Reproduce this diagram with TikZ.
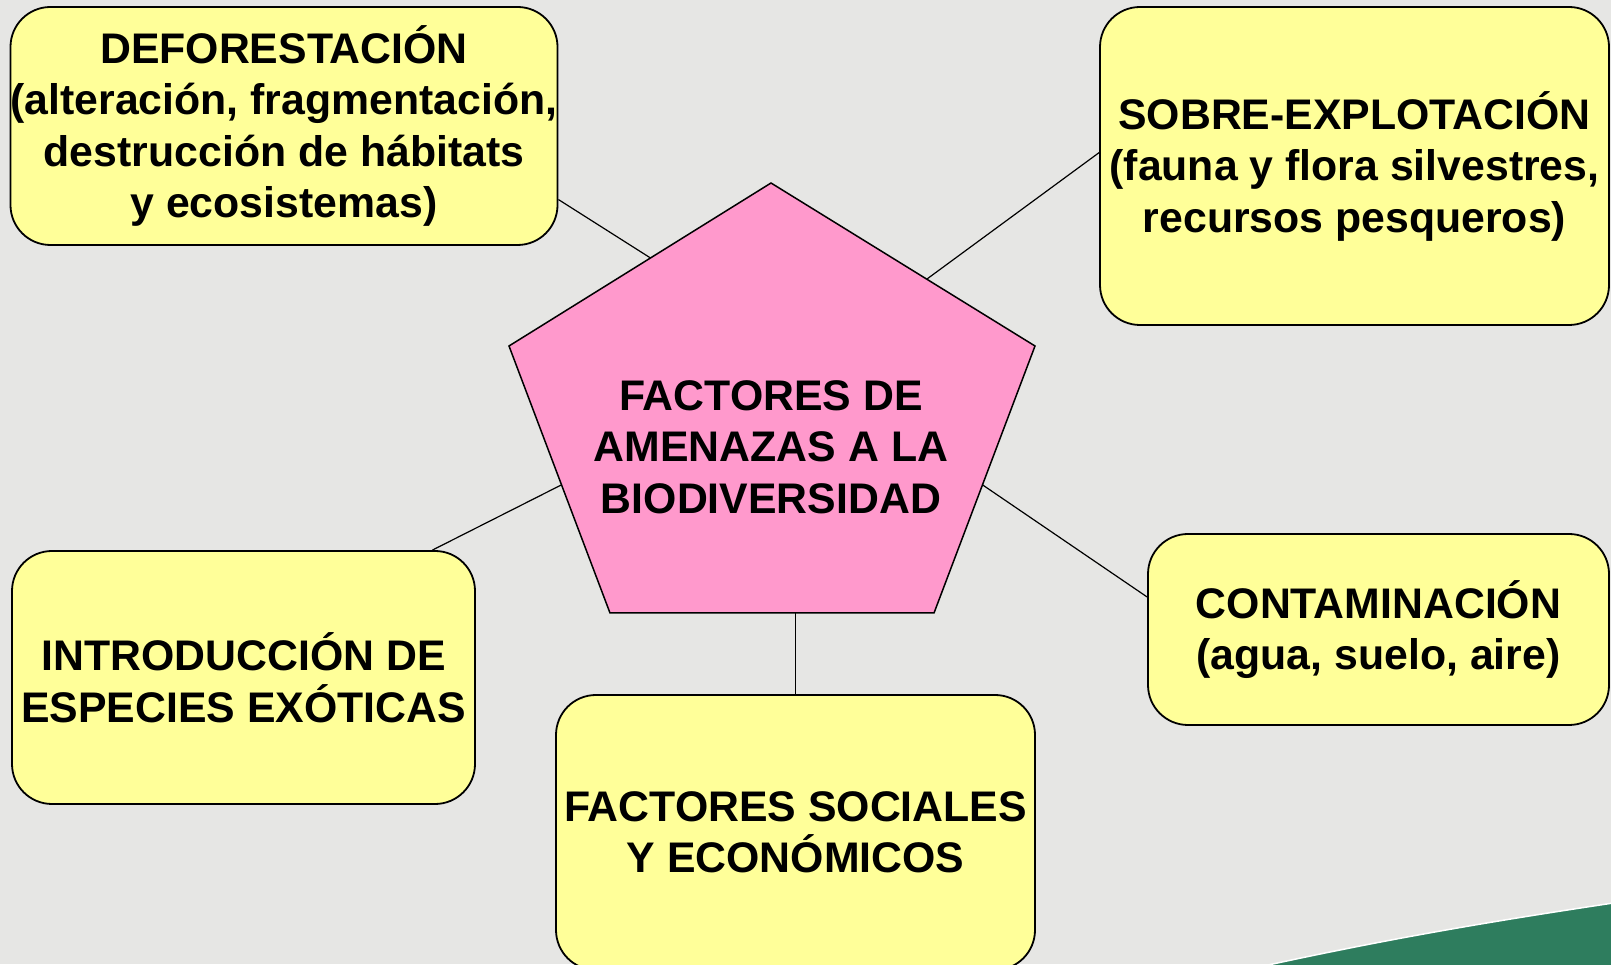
\documentclass[tikz,border=0pt]{standalone}
\usepackage{fontspec}
\setmainfont{Liberation Sans}
\usetikzlibrary{calc}
\definecolor{granito}{HTML}{E6E6E4}
\definecolor{amarillo}{HTML}{FFFF99}
\definecolor{rosa}{HTML}{FF99CC}
\definecolor{verde}{HTML}{2E7D5E}
\tikzstyle{every node}+=[inner sep=0pt]
\tikzstyle{factor}=[draw=black, line width=1.8pt, fill=amarillo, rounded corners=40pt, align=center, font=\fontsize{42.8}{51.5}\selectfont\bfseries]
\tikzstyle{pent}=[draw=black, line width=1.5pt, fill=rosa, line join=miter]
\tikzstyle{enlace}=[black, line width=1.2pt]

\begin{document}
\begin{tikzpicture}[x=1pt, y=1pt]
\useasboundingbox (0,0) rectangle (1611,964);
\clip (0,0) rectangle (1611,964);
\fill [granito] (0,0) rectangle (1611,964);
\fill [verde, draw=white, line width=1.5pt] (1250,-5) .. controls (1390,26) and (1500,44) .. (1620,62) -- (1620,-5) -- cycle;

% pentagono
\coordinate (p1) at (771,781);
\coordinate (p2) at (509,618);
\coordinate (p3) at (610,351);
\coordinate (p4) at (934,351);
\coordinate (p5) at (1035,618);
\draw [pent] (p1) -- (p2) -- (p3) -- (p4) -- (p5) -- cycle;
\node (centro) [align=center, font=\fontsize{42.8}{51.5}\selectfont\bfseries] at (771,517) {FACTORES DE\\AMENAZAS A LA\\BIODIVERSIDAD};

% cajas
\node (deforest) [factor, minimum width=544pt, minimum height=238pt] at (284,838)
  {DEFORESTACIÓN\\(alteración, fragmentación,\\destrucción de hábitats\\y ecosistemas)};
\node (sobre) [factor, minimum width=509pt, minimum height=318pt] at (1354.5,798)
  {SOBRE-EXPLOTACIÓN\\(fauna y flora silvestres,\\recursos pesqueros)};
\node (intro) [factor, minimum width=463pt, minimum height=253pt] at (243.5,286.5)
  {INTRODUCCIÓN DE\\ESPECIES EXÓTICAS};
\node (social) [factor, minimum width=479pt, minimum height=275pt] at (795.5,131.5)
  {FACTORES SOCIALES\\Y ECONÓMICOS};
\node (contam) [factor, minimum width=461pt, minimum height=191pt] at (1378.5,334.5)
  {CONTAMINACIÓN\\(agua, suelo, aire)};

% enlaces
\draw [enlace] (deforest.-15) -- ($(p1)!0.46!(p2)$);
\draw [enlace] (sobre.177) -- ($(p1)!0.59!(p5)$);
\draw [enlace] (intro.34) -- ($(p2)!0.52!(p3)$);
\draw [enlace] (contam.172) -- ($(p5)!0.52!(p4)$);
\draw [enlace] (social.north) -- (social.north |- p4);
\end{tikzpicture}
\end{document}
